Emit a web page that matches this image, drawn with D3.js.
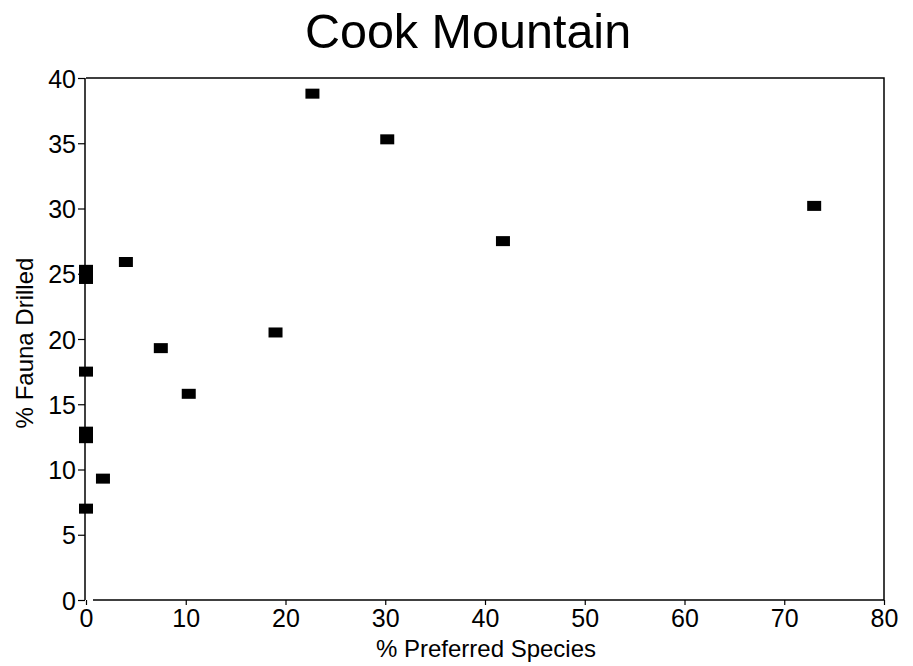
<!DOCTYPE html>
<html>
<head>
<meta charset="utf-8">
<script src="https://cdn.jsdelivr.net/npm/d3@7"></script>
<style>
  body { margin: 0; background: #fff; }
  text { font-family: "Liberation Sans", Arial, sans-serif; fill: #000; }
</style>
</head>
<body>
<svg id="svg"></svg>
<script>
// % preferred species vs % fauna drilled
var preferred = [22.7, 30.2, 73.0, 41.8, 4.0, 0, 0, 7.5, 19.0, 10.3, 0, 0, 0, 1.7, 0];
var drilled   = [38.8, 35.3, 30.2, 27.5, 25.9, 25.3, 24.6, 19.3, 20.5, 15.8, 17.5, 12.9, 12.4, 9.3, 7.0];
var xTicks = [0, 10, 20, 30, 40, 50, 60, 70, 80];
var yTicks = [0, 5, 10, 15, 20, 25, 30, 35, 40];

var width = 913, height = 666;
var svg = d3.select("#svg").attr("width", width).attr("height", height);

var x = d3.scaleLinear().domain([0, 80]).range([86, 884]);
var y = d3.scaleLinear().domain([0, 40]).range([600, 78]);

// frame: top and right border
svg.append("path")
    .attr("d", "M" + x(0) + "," + y(40) + "H" + x(80) + "V" + y(0))
    .attr("fill", "none").attr("stroke", "#000").attr("stroke-width", 1.5);

var yAxis = svg.append("g")
    .attr("transform", "translate(" + (x(0) - 1) + ",0)")
    .call(d3.axisLeft(y).tickValues(yTicks).tickSize(7).tickPadding(2));

var xAxis = svg.append("g")
    .attr("transform", "translate(0," + y(0) + ")")
    .call(d3.axisBottom(x).tickValues(xTicks).tickSize(5).tickPadding(4));

// x axis line starts a little right of the y axis (broken corner)
xAxis.select(".domain").attr("d", "M" + (x(0) + 7) + ",0H" + x(80));
yAxis.select(".domain").attr("d", "M0," + y(0) + "V" + y(40));

svg.selectAll(".domain").attr("stroke-width", 1.5);
svg.selectAll(".tick line").attr("stroke-width", 1.2);
svg.selectAll(".tick text")
    .attr("font-family", "Liberation Sans, Arial, sans-serif")
    .attr("font-size", 25);
yAxis.selectAll(".tick text").attr("dy", "0.36em");

svg.selectAll(".pt")
    .data(preferred)
    .enter().append("rect")
    .attr("class", "pt")
    .attr("x", function(d) { return x(d) - 7; })
    .attr("y", function(d, i) { return y(drilled[i]) - 5; })
    .attr("width", 14)
    .attr("height", 10)
    .attr("fill", "#000");

svg.append("text")
    .attr("x", 468).attr("y", 48)
    .attr("text-anchor", "middle")
    .attr("font-size", 48.5)
    .text("Cook Mountain");

svg.append("text")
    .attr("x", 486).attr("y", 657)
    .attr("text-anchor", "middle")
    .attr("font-size", 24)
    .text("% Preferred Species");

svg.append("text")
    .attr("transform", "translate(33,343) rotate(-90)")
    .attr("text-anchor", "middle")
    .attr("font-size", 24)
    .text("% Fauna Drilled");
</script>
</body>
</html>
